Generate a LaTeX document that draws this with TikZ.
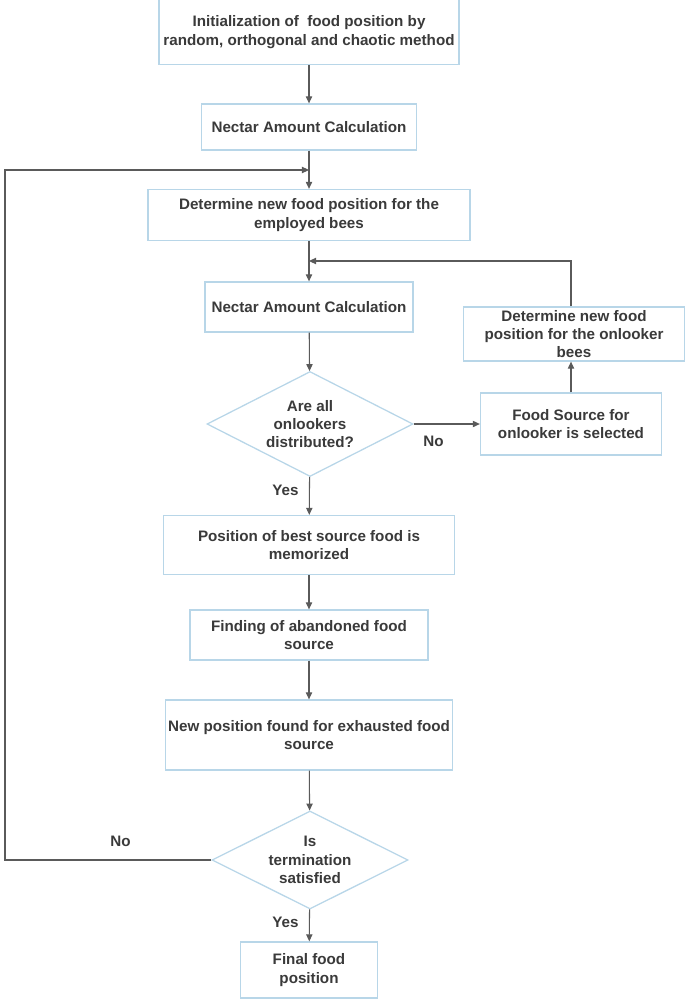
\documentclass[tikz,border=0pt]{standalone}
\usepackage{fontspec}
\setmainfont{Liberation Sans}
\usetikzlibrary{arrows.meta,shapes.geometric}
\definecolor{boxline}{HTML}{B8D6E8}
\definecolor{arrline}{HTML}{5A5A5A}
\definecolor{txt}{HTML}{3A3A3A}
\tikzset{
    stepbox/.style={draw=boxline, line width=0.9pt, fill=white, align=center, inner sep=2pt},
    decide/.style={diamond, draw=boxline, line width=0.9pt, fill=white, align=center, inner sep=0pt, aspect=2},
    arr/.style={draw=arrline, line width=0.75pt, -{Triangle[width=4.5pt,length=5pt]}},
    lbl/.style={text=txt}
}
\begin{document}
\begin{tikzpicture}[x=0.025cm, y=-0.025cm, every node/.style={text=txt, font=\fontsize{10.8}{13}\selectfont\bfseries}]
    \useasboundingbox (0,0) rectangle (685,1000);

    \node[stepbox, minimum width=7.5cm, minimum height=1.625cm] (init) at (309,32) {Initialization of\ \ food position by\\random, orthogonal and chaotic method};
    \node[stepbox, minimum width=5.375cm, minimum height=1.15cm] (nect1) at (309,127) {Nectar Amount Calculation};
    \node[stepbox, minimum width=8.05cm, minimum height=1.275cm] (detemp) at (309,215) {Determine new food position for the\\employed bees};
    \node[stepbox, minimum width=5.2cm, minimum height=1.25cm] (nect2) at (309,307) {Nectar Amount Calculation};
    \node[decide, minimum width=5.15cm, minimum height=2.625cm] (dist) at (310,424) {Are all\\onlookers\\distributed?};
    \node[stepbox, minimum width=4.525cm, minimum height=1.55cm] (food) at (571,424) {Food Source for\\onlooker is selected};
    \node[stepbox, minimum width=5.525cm, minimum height=1.35cm] (onl) at (574,334) {Determine new food\\position for the onlooker\\bees};
    \node[stepbox, minimum width=7.275cm, minimum height=1.475cm] (best) at (309,545) {Position of best source food is\\memorized};
    \node[stepbox, minimum width=5.95cm, minimum height=1.25cm] (find) at (309,635) {Finding of abandoned food\\source};
    \node[stepbox, minimum width=7.175cm, minimum height=1.75cm] (newpos) at (309,735) {New position found for exhausted food\\source};
    \node[decide, minimum width=4.9cm, minimum height=2.45cm] (term) at (310,860) {Is\\termination\\satisfied};
    \node[stepbox, minimum width=3.425cm, minimum height=1.4cm] (final) at (309,970) {Final food\\position};

    \coordinate (join1) at (309,170);
    \coordinate (leftc) at (5,170);
    \coordinate (join2) at (309,261);

    % main column
    \draw[arr] (init) -- (nect1);
    \draw[arr] (nect1) -- (detemp);
    \draw[arr] (detemp) -- (nect2);
    \draw[arr] (nect2) -- (dist);
    \draw[arr] (dist) -- node[lbl, pos=0.35, left=4pt] {Yes} (best);
    \draw[arr] (best) -- (find);
    \draw[arr] (find) -- (newpos);
    \draw[arr] (newpos) -- (term);
    \draw[arr] (term) -- node[lbl, pos=0.4, left=4pt] {Yes} (final);

    % onlooker loop
    \draw[arr] (dist.east) -- node[lbl, pos=0.3, below=5pt] {No} (food.west);
    \draw[arr] (food.north) -- (food.north |- onl.south);
    \draw[arr] (food.north |- onl.north) |- (join2);

    % termination loop
    \draw[arr] (term.west) -| node[lbl, pos=0.22, above=6pt] {No} (leftc) -- (join1);
\end{tikzpicture}
\end{document}
